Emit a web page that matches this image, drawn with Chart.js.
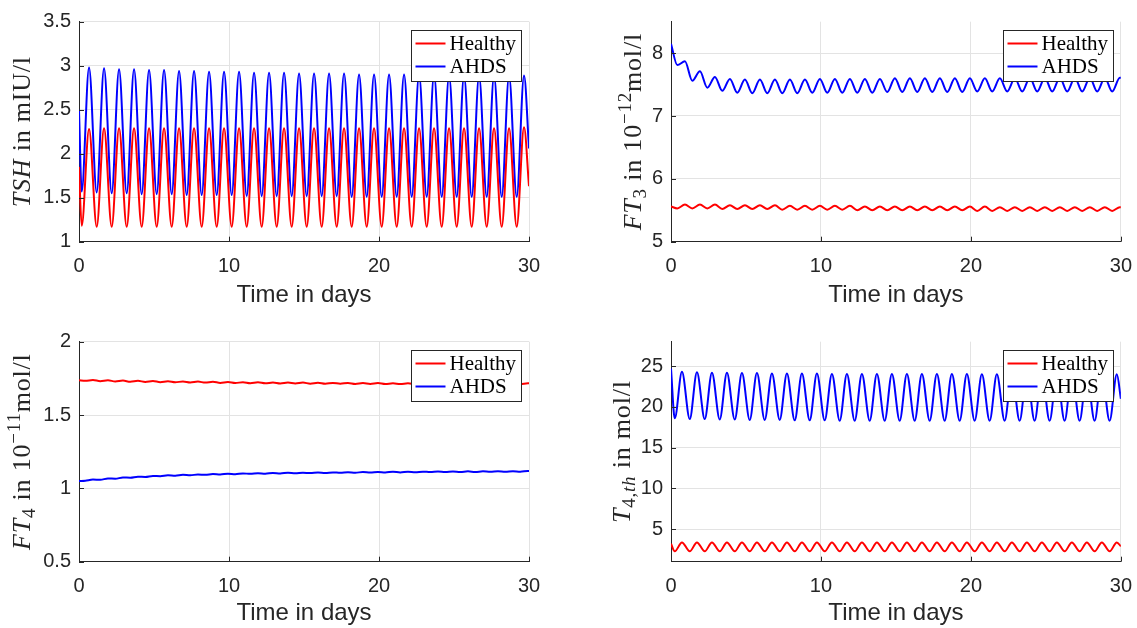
<!DOCTYPE html>
<html>
<head>
<meta charset="utf-8">
<script src="https://cdn.jsdelivr.net/npm/chart.js@4.4.0/dist/chart.umd.min.js"></script>
<style>
  html, body { margin: 0; padding: 0; background: #fff; overflow: hidden; }
  #wrap { position: relative; width: 1137px; height: 628px; overflow: hidden; }
  .panel { position: absolute; }
</style>
</head>
<body>
<div id="wrap">
  <div class="panel" style="left:0;top:0"><canvas id="chart_1" width="568" height="314"></canvas></div>
  <div class="panel" style="left:568px;top:0"><canvas id="chart_2" width="577" height="314"></canvas></div>
  <div class="panel" style="left:0;top:314px"><canvas id="chart_3" width="568" height="314"></canvas></div>
  <div class="panel" style="left:568px;top:314px"><canvas id="chart_4" width="577" height="314"></canvas></div>
</div>
<script>
// time points (days) of the start, each trough / peak, and the end
const tshTime = [0,
  0.18, 0.67, 1.18, 1.67, 2.18, 2.67, 3.18, 3.67, 4.18, 4.67, 5.18, 5.67, 6.18, 6.67, 7.18, 7.67, 8.18, 8.67, 9.18, 9.67,
  10.18, 10.67, 11.18, 11.67, 12.18, 12.67, 13.18, 13.67, 14.18, 14.67, 15.18, 15.67, 16.18, 16.67, 17.18, 17.67, 18.18, 18.67, 19.18, 19.67,
  20.18, 20.67, 21.18, 21.67, 22.18, 22.67, 23.18, 23.67, 24.18, 24.67, 25.18, 25.67, 26.18, 26.67, 27.18, 27.67, 28.18, 28.67, 29.18, 29.67,
  30];
const ftTime = [0,
  0.42, 0.93, 1.42, 1.93, 2.42, 2.93, 3.42, 3.93, 4.42, 4.93, 5.42, 5.93, 6.42, 6.93, 7.42, 7.93, 8.42, 8.93, 9.42, 9.93,
  10.42, 10.93, 11.42, 11.93, 12.42, 12.93, 13.42, 13.93, 14.42, 14.93, 15.42, 15.93, 16.42, 16.93, 17.42, 17.93, 18.42, 18.93, 19.42, 19.93,
  20.42, 20.93, 21.42, 21.93, 22.42, 22.93, 23.42, 23.93, 24.42, 24.93, 25.42, 25.93, 26.42, 26.93, 27.42, 27.93, 28.42, 28.93, 29.42, 29.93,
  30];
const t4Time = [0,
  0.25, 0.73, 1.25, 1.73, 2.25, 2.73, 3.25, 3.73, 4.25, 4.73, 5.25, 5.73, 6.25, 6.73, 7.25, 7.73, 8.25, 8.73, 9.25, 9.73,
  10.25, 10.73, 11.25, 11.73, 12.25, 12.73, 13.25, 13.73, 14.25, 14.73, 15.25, 15.73, 16.25, 16.73, 17.25, 17.73, 18.25, 18.73, 19.25, 19.73,
  20.25, 20.73, 21.25, 21.73, 22.25, 22.73, 23.25, 23.73, 24.25, 24.73, 25.25, 25.73, 26.25, 26.73, 27.25, 27.73, 28.25, 28.73, 29.25, 29.73,
  30];

const tshHealthy = [1.85,
  1.18, 2.28, 1.17, 2.29, 1.17, 2.29, 1.17, 2.29, 1.17, 2.29, 1.17, 2.29, 1.17, 2.29, 1.17, 2.29, 1.17, 2.29, 1.17, 2.29,
  1.17, 2.29, 1.17, 2.29, 1.17, 2.29, 1.17, 2.29, 1.17, 2.29, 1.17, 2.29, 1.17, 2.29, 1.17, 2.29, 1.17, 2.29, 1.17, 2.29,
  1.17, 2.29, 1.17, 2.29, 1.17, 2.29, 1.17, 2.29, 1.17, 2.29, 1.17, 2.29, 1.17, 2.29, 1.17, 2.29, 1.17, 2.29, 1.17, 2.30,
  1.63];
const tshAhds = [2.50,
  1.57, 2.98, 1.56, 2.97, 1.55, 2.96, 1.55, 2.96, 1.54, 2.95, 1.54, 2.95, 1.54, 2.94, 1.53, 2.94, 1.53, 2.93, 1.53, 2.93,
  1.53, 2.93, 1.52, 2.92, 1.52, 2.92, 1.52, 2.92, 1.52, 2.91, 1.52, 2.91, 1.52, 2.91, 1.52, 2.91, 1.51, 2.90, 1.51, 2.90,
  1.51, 2.90, 1.51, 2.90, 1.51, 2.90, 1.51, 2.90, 1.51, 2.89, 1.51, 2.89, 1.51, 2.89, 1.51, 2.89, 1.51, 2.89, 1.51, 2.89,
  2.06];

const ft3Healthy = [5.56,
  5.53, 5.59, 5.53, 5.59, 5.53, 5.59, 5.52, 5.58, 5.52, 5.58, 5.52, 5.58, 5.52, 5.58, 5.51, 5.57, 5.51, 5.57, 5.51, 5.57,
  5.51, 5.57, 5.51, 5.57, 5.50, 5.56, 5.50, 5.56, 5.50, 5.56, 5.50, 5.56, 5.50, 5.56, 5.50, 5.56, 5.50, 5.56, 5.50, 5.56,
  5.49, 5.56, 5.49, 5.55, 5.49, 5.55, 5.49, 5.55, 5.49, 5.55, 5.49, 5.55, 5.49, 5.55, 5.49, 5.55, 5.49, 5.55, 5.49, 5.55,
  5.55];
const ft3Ahds = [8.15,
  7.81, 7.87, 7.56, 7.71, 7.45, 7.62, 7.40, 7.59, 7.37, 7.58, 7.36, 7.58, 7.36, 7.58, 7.36, 7.58, 7.36, 7.58, 7.37, 7.59,
  7.37, 7.59, 7.37, 7.59, 7.37, 7.59, 7.37, 7.59, 7.38, 7.60, 7.38, 7.60, 7.38, 7.60, 7.38, 7.60, 7.38, 7.60, 7.38, 7.60,
  7.39, 7.60, 7.39, 7.60, 7.39, 7.60, 7.39, 7.61, 7.39, 7.61, 7.39, 7.61, 7.39, 7.61, 7.39, 7.61, 7.39, 7.61, 7.39, 7.61,
  7.61];

const ft4Healthy = [1.738,
  1.733, 1.739, 1.731, 1.737, 1.729, 1.735, 1.727, 1.733, 1.726, 1.732, 1.724, 1.730, 1.723, 1.729, 1.722, 1.728, 1.721, 1.727, 1.719, 1.725,
  1.718, 1.724, 1.717, 1.723, 1.716, 1.722, 1.715, 1.721, 1.715, 1.721, 1.714, 1.720, 1.713, 1.719, 1.713, 1.719, 1.712, 1.718, 1.712, 1.718,
  1.711, 1.717, 1.711, 1.717, 1.711, 1.717, 1.710, 1.716, 1.710, 1.716, 1.710, 1.716, 1.710, 1.716, 1.711, 1.717, 1.711, 1.717, 1.711, 1.717,
  1.717];
const ft4Ahds = [1.050,
  1.052, 1.060, 1.059, 1.067, 1.066, 1.074, 1.073, 1.080, 1.078, 1.085, 1.083, 1.089, 1.086, 1.092, 1.089, 1.095, 1.092, 1.098, 1.095, 1.100,
  1.097, 1.102, 1.099, 1.103, 1.100, 1.105, 1.102, 1.106, 1.103, 1.107, 1.104, 1.108, 1.105, 1.109, 1.106, 1.110, 1.107, 1.111, 1.108, 1.112,
  1.109, 1.113, 1.109, 1.113, 1.110, 1.114, 1.111, 1.115, 1.111, 1.115, 1.112, 1.116, 1.112, 1.116, 1.113, 1.117, 1.113, 1.117, 1.114, 1.118,
  1.118];

const t4Healthy = [3.2,
  2.27, 3.37, 2.27, 3.37, 2.27, 3.37, 2.27, 3.37, 2.27, 3.37, 2.27, 3.37, 2.27, 3.37, 2.27, 3.37, 2.27, 3.37, 2.27, 3.37,
  2.27, 3.37, 2.27, 3.37, 2.27, 3.37, 2.27, 3.37, 2.27, 3.37, 2.27, 3.37, 2.27, 3.37, 2.27, 3.37, 2.27, 3.37, 2.27, 3.37,
  2.27, 3.37, 2.27, 3.37, 2.27, 3.37, 2.27, 3.37, 2.27, 3.37, 2.27, 3.37, 2.27, 3.37, 2.27, 3.37, 2.27, 3.37, 2.27, 3.37,
  2.88];
const t4Ahds = [24.7,
  18.6, 24.3, 18.5, 24.25, 18.5, 24.2, 18.45, 24.2, 18.45, 24.15, 18.4, 24.15, 18.4, 24.1, 18.4, 24.1, 18.35, 24.1, 18.35, 24.1,
  18.35, 24.05, 18.3, 24.05, 18.3, 24.05, 18.3, 24.05, 18.3, 24.05, 18.3, 24.05, 18.3, 24.05, 18.3, 24.05, 18.3, 24.05, 18.3, 24.05,
  18.3, 24.0, 18.3, 24.0, 18.3, 24.0, 18.3, 24.0, 18.3, 24.0, 18.3, 24.0, 18.3, 24.0, 18.3, 24.0, 18.3, 24.0, 18.3, 24.0,
  21.0];

const seriesLabels = ["Healthy", "AHDS"];
const xTitle = "Time in days";

Chart.defaults.font.family = "'Liberation Sans', Arial, Helvetica, sans-serif";
Chart.defaults.color = "#262626";

function toPoints(times, values) {
  return times.map(function (t, i) {
    return { x: t, y: values[i] };
  });
}

// inward ticks, inset legend and a LaTeX-ish y label
var matlabPlugin = {
  id: "matlab",
  afterDraw: function (chart, args, opts) {
    var ctx = chart.ctx;
    var area = chart.chartArea;
    var xs = chart.scales.x;
    var ys = chart.scales.y;
    ctx.save();

    ctx.strokeStyle = "#262626";
    ctx.lineWidth = 1;
    ctx.beginPath();
    ys.ticks.forEach(function (tk) {
      var y = Math.round(ys.getPixelForValue(tk.value)) + 0.5;
      ctx.moveTo(area.left, y);
      ctx.lineTo(area.left + 5, y);
    });
    xs.ticks.forEach(function (tk) {
      var x = Math.round(xs.getPixelForValue(tk.value)) + 0.5;
      ctx.moveTo(x, area.bottom);
      ctx.lineTo(x, area.bottom - 5);
    });
    ctx.stroke();

    // legend box
    ctx.font = "21px 'Liberation Serif', serif";
    var w = 0;
    chart.data.datasets.forEach(function (ds) {
      w = Math.max(w, ctx.measureText(ds.label).width);
    });
    var bw = Math.round(38 + w + 6);
    var bh = 51;
    var bx = Math.round(area.right - 8 - bw) + 0.5;
    var by = Math.round(area.top + 8) + 0.5;
    ctx.fillStyle = "#ffffff";
    ctx.fillRect(bx, by, bw, bh);
    ctx.strokeStyle = "#262626";
    ctx.strokeRect(bx, by, bw, bh);
    chart.data.datasets.forEach(function (ds, i) {
      var cy = by + 13 + i * 23;
      ctx.strokeStyle = ds.borderColor;
      ctx.lineWidth = 2;
      ctx.beginPath();
      ctx.moveTo(bx + 4, cy);
      ctx.lineTo(bx + 34, cy);
      ctx.stroke();
      ctx.fillStyle = "#000000";
      ctx.textBaseline = "middle";
      ctx.textAlign = "left";
      ctx.fillText(ds.label, bx + 38, cy + 1);
    });

    // y label
    var segs = opts.ylabel;
    function fontFor(s) {
      var size = s.sub || s.sup ? 19 : 26;
      return (s.it ? "italic " : "") + size + "px 'Liberation Serif', serif";
    }
    ctx.letterSpacing = "0.8px";
    var total = 0;
    var widths = segs.map(function (s) {
      ctx.font = fontFor(s);
      var sw = ctx.measureText(s.t).width;
      total += sw;
      return sw;
    });
    ctx.translate(opts.titleX, (area.top + area.bottom) / 2);
    ctx.rotate(-Math.PI / 2);
    ctx.fillStyle = "#262626";
    ctx.textBaseline = "alphabetic";
    ctx.textAlign = "left";
    var x = -total / 2;
    segs.forEach(function (s, i) {
      ctx.font = fontFor(s);
      var dy = s.sub ? 5 : s.sup ? -10 : 0;
      ctx.fillText(s.t, x, 8 + dy);
      x += widths[i];
    });

    ctx.restore();
  },
};

function makeChart(id, cfg) {
  return new Chart(document.getElementById(id), {
    type: "line",
    data: {
      datasets: [
        {
          label: seriesLabels[0],
          data: toPoints(cfg.time, cfg.healthy),
          borderColor: "#ff0000",
        },
        {
          label: seriesLabels[1],
          data: toPoints(cfg.time, cfg.ahds),
          borderColor: "#0000ff",
        },
      ],
    },
    options: {
      responsive: false,
      animation: false,
      events: [],
      layout: {
        padding: { left: 0, right: cfg.padRight, top: cfg.padTop, bottom: cfg.padBottom },
      },
      elements: {
        point: { radius: 0 },
        line: { borderWidth: 2, cubicInterpolationMode: "monotone", fill: false },
      },
      plugins: {
        legend: { display: false },
        tooltip: { enabled: false },
        matlab: { ylabel: cfg.ylabel, titleX: cfg.titleX },
      },
      scales: {
        x: {
          type: "linear",
          min: 0,
          max: 30,
          afterFit: function (axis) {
            axis.height = cfg.xHeight;
          },
          ticks: { stepSize: 10, padding: 13, maxRotation: 0, font: { size: 20 }, color: "#262626" },
          grid: { color: "#e3e3e3", drawTicks: false },
          border: { color: "#262626" },
          title: {
            display: true,
            text: xTitle,
            font: { size: 24 },
            color: "#262626",
            padding: { top: 0, bottom: 0 },
          },
        },
        y: {
          min: cfg.yMin,
          max: cfg.yMax,
          afterFit: function (axis) {
            axis.width = cfg.axisLeft;
          },
          ticks: {
            stepSize: cfg.yStep,
            includeBounds: false,
            padding: 8,
            font: { size: 20 },
            color: "#262626",
            callback: function (value) {
              return String(value);
            },
          },
          grid: { color: "#e3e3e3", drawTicks: false },
          border: { color: "#262626" },
        },
      },
    },
    plugins: [matlabPlugin],
  });
}

// right column canvases run past the window edge so the "30" label fits
var chart1 = makeChart("chart_1", {
  time: tshTime, healthy: tshHealthy, ahds: tshAhds,
  yMin: 1, yMax: 3.5, yStep: 0.5,
  axisLeft: 79, padRight: 39, padTop: 21.7, padBottom: 4.6, xHeight: 67.7, titleX: 22,
  ylabel: [{ t: "TSH", it: true }, { t: " in mIU/l" }],
});
var chart2 = makeChart("chart_2", {
  time: ftTime, healthy: ft3Healthy, ahds: ft3Ahds,
  yMin: 5, yMax: 8.5, yStep: 1,
  axisLeft: 103, padRight: 24, padTop: 21.7, padBottom: 4.6, xHeight: 67.7, titleX: 65,
  ylabel: [{ t: "FT", it: true }, { t: "3", sub: true }, { t: " in 10" }, { t: "\u221212", sup: true }, { t: "mol/l" }],
});
var chart3 = makeChart("chart_3", {
  time: ftTime, healthy: ft4Healthy, ahds: ft4Ahds,
  yMin: 0.5, yMax: 2, yStep: 0.5,
  axisLeft: 79, padRight: 39, padTop: 27.7, padBottom: 0.6, xHeight: 65.7, titleX: 22,
  ylabel: [{ t: "FT", it: true }, { t: "4", sub: true }, { t: " in 10" }, { t: "\u221211", sup: true }, { t: "mol/l" }],
});
var chart4 = makeChart("chart_4", {
  time: t4Time, healthy: t4Healthy, ahds: t4Ahds,
  yMin: 1, yMax: 28, yStep: 5,
  axisLeft: 103, padRight: 24, padTop: 27.7, padBottom: 0.6, xHeight: 65.7, titleX: 54,
  ylabel: [{ t: "T", it: true }, { t: "4,", sub: true }, { t: "th", sub: true, it: true }, { t: " in mol/l" }],
});
</script>
</body>
</html>
